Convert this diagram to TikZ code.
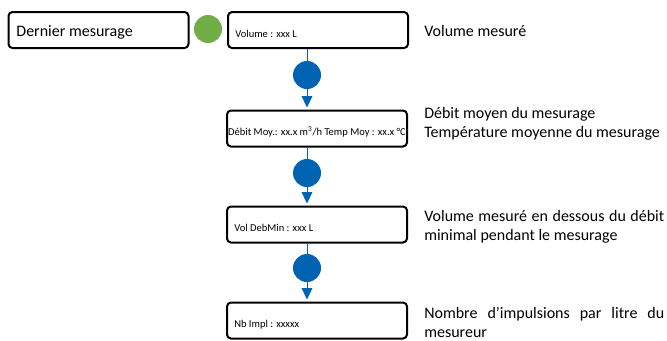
\documentclass[tikz,border=0pt]{standalone}
\usepackage{fontspec}
\setmainfont{Carlito}
\usetikzlibrary{arrows.meta,positioning}
\definecolor{bleu}{RGB}{0,99,177}
\definecolor{vert}{RGB}{112,173,71}
\tikzset{
  boite/.style={draw=black,line width=1.5pt,rounded corners=3pt,minimum width=135pt,minimum height=27pt,inner sep=0pt},
  pastille/.style={circle,fill=#1,minimum size=21pt,inner sep=0pt},
  petit/.style={font=\fontsize{7.9}{9}\selectfont,inner sep=0pt},
  grand/.style={font=\fontsize{12}{14}\selectfont,inner sep=0pt},
  note/.style={grand,anchor=west,text width=180pt,align=justify},
  lien/.style={bleu,line width=0.75pt},
  fleche/.style={lien,-{Triangle[width=8pt,length=8.5pt]},shorten >=1.5pt}
}
\begin{document}
\begin{tikzpicture}[x=0.75pt,y=-0.75pt]
    \useasboundingbox (0,0) rectangle (667,340);
    % boites
    \node[boite] (b1) at (98.5,30) {};
    \node[grand,anchor=west] (l1) at ([xshift=6.5pt,yshift=-1.5pt]b1.west) {Dernier mesurage};
    \node[boite] (b2) at (318,30) {};
    \node[petit,anchor=west] (l2) at ([xshift=6pt,yshift=-3pt]b2.west) {Volume : xxx L};
    \node[boite] (b3) at (317,128.5) {};
    \node[petit] (l3) at ([yshift=-2.7pt]b3.center) {Débit Moy.: xx.x m\textsuperscript{3}/h Temp Moy : xx.x °C};
    \node[boite] (b4) at (317,224.5) {};
    \node[petit,anchor=west] (l4) at ([xshift=6pt,yshift=-2.7pt]b4.west) {Vol DebMin : xxx L};
    \node[boite] (b5) at (317,320.5) {};
    \node[petit,anchor=west] (l5) at ([xshift=6pt,yshift=-3pt]b5.west) {Nb Impl : xxxxx};

    % pastilles
    \node[pastille=vert] (g) at (208,29) {};
    \node[pastille=bleu] (c1) at (307,75) {};
    \node[pastille=bleu] (c2) at (307,173) {};
    \node[pastille=bleu] (c3) at (307,268) {};

    % liens
    \draw[lien] (c1 |- b2.south) -- (c1);
    \draw[fleche] (c1) -- (c1 |- b3.north);
    \draw[lien] (c2 |- b3.south) -- (c2);
    \draw[fleche] (c2) -- (c2 |- b4.north);
    \draw[lien] (c3 |- b4.south) -- (c3);
    \draw[fleche] (c3) -- (c3 |- b5.north);

    % notes
    \node[note] (n1) at (424,31) {Volume mesuré};
    \node[note] (n2) at (424,124) {Débit moyen du mesurage\\Température moyenne du mesurage};
    \node[note] (n3) at (424,226.5) {Volume mesuré en dessous du débit\linebreak minimal pendant le mesurage};
    \node[note] (n4) at (424,322.5) {Nombre d’impulsions par litre du\linebreak mesureur};
\end{tikzpicture}
\end{document}
